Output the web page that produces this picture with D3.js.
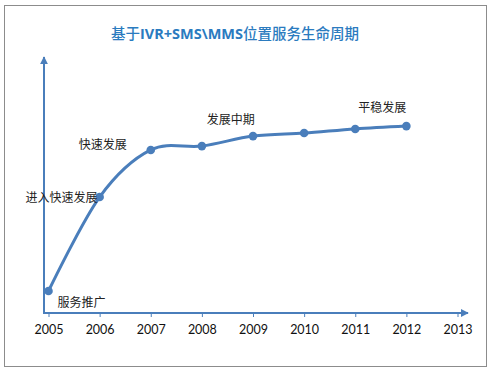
<!DOCTYPE html>
<html><head><meta charset="utf-8">
<script src="https://cdnjs.cloudflare.com/ajax/libs/d3/7.8.5/d3.min.js"></script>
<style>body{margin:0;background:#fff;}</style>
</head><body>
<script>
const years = [2005, 2006, 2007, 2008, 2009, 2010, 2011, 2012];
const tickYears = [2005, 2006, 2007, 2008, 2009, 2010, 2011, 2012, 2013];
const values = [8.6, 45.3, 63.7, 65.2, 69.1, 70.3, 71.9, 73.0];
const stageLabels = ["服务推广", "进入快速发展", "快速发展", "发展中期", "平稳发展"];
const stageYears = [2005, 2006, 2007, 2008, 2012];
const titleParts = [["基于", false], ["IVR+SMS\\MMS", true], ["位置服务生命周期", false]];

const W = 491, H = 374;
const svg = d3.select("body").append("svg").attr("width", W).attr("height", H);
const blue = "#4a7ebb";

svg.append("rect").attr("x", 4.5).attr("y", 5.5).attr("width", 482).attr("height", 361)
  .attr("fill", "#fff").attr("stroke", "#8c8c8c").attr("stroke-width", 1);

const tt = svg.append("text").attr("x", 235).attr("y", 39).attr("text-anchor", "middle")
  .attr("font-family", "'Noto Sans CJK SC', sans-serif")
  .attr("font-size", 14.5).attr("fill", "#2b7bbf");
titleParts.forEach(([s, b]) => {
  tt.append("tspan").attr("font-weight", b ? "bold" : "500")
    .attr("font-family", b ? "'Open Sans', sans-serif" : "'Noto Sans CJK SC', sans-serif").text(s);
});

const x = d3.scaleLinear().domain([2005, 2013]).range([48.5, 457.5]);
const y = d3.scaleLinear().domain([0, 100]).range([313, 57]);

const xAxis = d3.axisBottom(x).tickValues(tickYears).tickFormat(d3.format("d")).tickSize(4).tickPadding(8);
const gx = svg.append("g").attr("transform", "translate(0,313)").call(xAxis);
gx.select(".domain").remove();
gx.selectAll(".tick line").attr("stroke", blue).attr("stroke-width", 1);
gx.selectAll(".tick text").attr("font-family", "Lato, 'Open Sans', sans-serif").attr("font-size", 12.5).attr("fill", "#111");

svg.append("defs").append("marker").attr("id", "arr").attr("viewBox", "0 0 10 10")
  .attr("refX", 9).attr("refY", 5).attr("markerWidth", 4).attr("markerHeight", 4)
  .attr("orient", "auto").append("path").attr("d", "M0,0L10,5L0,10Z").attr("fill", blue);
svg.append("line").attr("x1", 44).attr("y1", 313).attr("x2", 468).attr("y2", 313)
  .attr("stroke", blue).attr("stroke-width", 2).attr("marker-end", "url(#arr)");
svg.append("line").attr("x1", 44).attr("y1", 314).attr("x2", 44).attr("y2", 57)
  .attr("stroke", blue).attr("stroke-width", 2).attr("marker-end", "url(#arr)");

const data = years.map((yr, i) => ({yr, v: values[i]}));
const line = d3.line().x(d => x(d.yr)).y(d => y(d.v)).curve(d3.curveCardinal.tension(0));
svg.append("path").datum(data).attr("d", line).attr("fill", "none")
  .attr("stroke", blue).attr("stroke-width", 3);
svg.selectAll("circle.pt").data(data).enter().append("circle")
  .attr("cx", d => x(d.yr)).attr("cy", d => y(d.v)).attr("r", 4.3).attr("fill", blue);

const offs = [[9, 16, "start"], [-2, 5, "end"], [-48, -1, "middle"], [29, -22, "middle"], [-24, -14, "middle"]];
stageLabels.forEach((t, i) => {
  const yr = stageYears[i];
  const v = values[years.indexOf(yr)];
  svg.append("text").attr("x", x(yr) + offs[i][0]).attr("y", y(v) + offs[i][1])
    .attr("text-anchor", offs[i][2]).attr("font-family", "'Noto Sans CJK SC', sans-serif")
    .attr("font-size", 12).attr("fill", "#222").text(t);
});
</script>
</body></html>
